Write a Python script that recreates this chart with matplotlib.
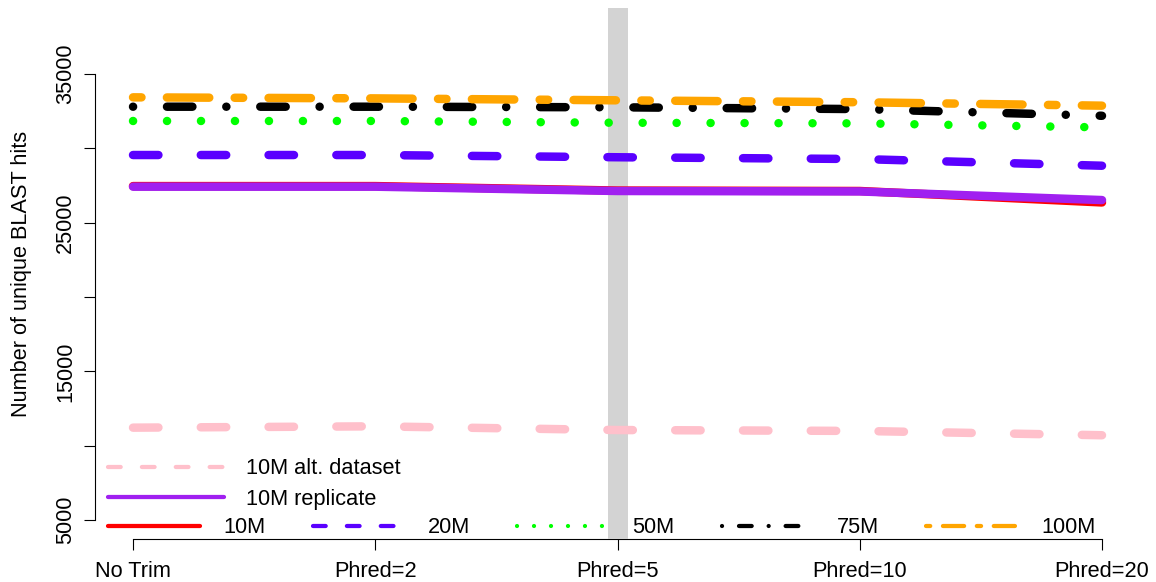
import numpy as np
import matplotlib
matplotlib.use("Agg")
import matplotlib.pyplot as plt
from matplotlib.lines import Line2D

# ── data ──────────────────────────────────────────────────────────────────────
TRIM_LEVELS = ["No Trim", "Phred=2", "Phred=5", "Phred=10", "Phred=20"]
HIGHLIGHT = "Phred=5"

HITS_10M = [27460, 27460, 27160, 27130, 26360]
HITS_20M = [29550, 29550, 29400, 29280, 28830]
HITS_50M = [31840, 31840, 31720, 31680, 31410]
HITS_75M = [32800, 32800, 32760, 32640, 32190]
HITS_100M = [33430, 33360, 33230, 33100, 32870]
HITS_10M_REPLICATE = [27420, 27420, 27130, 27100, 26520]
HITS_10M_ALT = [11210, 11300, 11050, 10990, 10700]

Y_TICKS = [5000, 10000, 15000, 20000, 25000, 30000, 35000]
Y_TICK_LABELS = ["5000", "", "15000", "", "25000", "", "35000"]

# R lty patterns, rewritten for round caps (units of line width)
SOLID = None
DASHED = (3, 5)
DOTTED = (0.01, 4)
DOTDASH = (0.01, 4, 3, 4)
TWODASH = (1, 3, 5, 3)

FS = 15.7
plt.rcParams["font.family"] = ["Liberation Sans", "DejaVu Sans"]
plt.rcParams["font.size"] = FS

W, H, DPI = 1156, 582, 100
LW = 6.1          # data lines
LW_LEG = LW / 2   # legend lines


def styled_line(color, dashes, lw):
    ln = Line2D([], [], color=color, lw=lw,
                solid_capstyle="round", dash_capstyle="round")
    if dashes is not None:
        ln.set_dashes(dashes)
    return ln


def draw(ax, x, values, color, dashes):
    ln, = ax.plot(x, values, color=color, lw=LW, zorder=3,
                  solid_capstyle="round", dash_capstyle="round")
    if dashes is not None:
        ln.set_dashes(dashes)


fig = plt.figure(figsize=(W / DPI, H / DPI), dpi=DPI)
ax = fig.add_axes([94.5 / W, 1 - 539.3 / H, (1141 - 94.5) / W, (539.3 - 8) / H])

x = np.arange(1, len(TRIM_LEVELS) + 1)

main_series = [
    ("10M", HITS_10M, "#FF0000", SOLID),
    ("20M", HITS_20M, "#5A00FF", DASHED),
    ("50M", HITS_50M, "#00FF00", DOTTED),
    ("75M", HITS_75M, "#000000", DOTDASH),
    ("100M", HITS_100M, "#FFA500", TWODASH),
]
extra_series = [
    ("10M alt. dataset", HITS_10M_ALT, "#FFC0CB", DASHED),
    ("10M replicate", HITS_10M_REPLICATE, "#A020F0", SOLID),
]

for _, vals, col, dsh in main_series:
    draw(ax, x, vals, col, dsh)
for _, vals, col, dsh in extra_series[::-1]:
    draw(ax, x, vals, col, dsh)

# grey marker behind the chosen trimming level
ax.axvline(x[TRIM_LEVELS.index(HIGHLIGHT)], color="#D3D3D3", lw=14.4, zorder=2.7)

ax.set_xlim(0.841, 5.161)
ax.set_ylim(3700, 39440)

ax.set_xticks(x)
ax.set_xticklabels(TRIM_LEVELS)
ax.set_yticks(Y_TICKS)
ax.set_yticklabels(Y_TICK_LABELS, rotation=90, va="center")
ax.tick_params(axis="both", direction="out", length=7.9, width=0.8, labelsize=FS)
ax.tick_params(axis="x", pad=7.8)
ax.tick_params(axis="y", pad=5.5)

for side in ("top", "right"):
    ax.spines[side].set_visible(False)
ax.spines["left"].set_bounds(Y_TICKS[0], Y_TICKS[-1])
ax.spines["bottom"].set_bounds(x[0], x[-1])
for side in ("left", "bottom"):
    ax.spines[side].set_linewidth(0.8)

ax.set_ylabel("Number of unique BLAST hits", fontsize=FS, va="center")
ax.yaxis.set_label_coords(-0.0693, 0.5)

# ── legends ──────────────────────────────────────────────────────────────────
leg_main = ax.legend(
    [styled_line(c, d, LW_LEG) for _, _, c, d in main_series],
    [n for n, _, _, _ in main_series],
    ncol=5, loc="center left", bbox_to_anchor=(0.0129, 0.0213),
    frameon=False, fontsize=FS, handlelength=4.24, handletextpad=1.04,
    columnspacing=2.17, borderpad=0, borderaxespad=0,
)
leg_main.set_zorder(2)
ax.add_artist(leg_main)

leg_extra = ax.legend(
    [styled_line(c, d, LW_LEG) for _, _, c, d in extra_series],
    [n for n, _, _, _ in extra_series],
    loc="center left", bbox_to_anchor=(0.0129, 0.1041),
    frameon=False, fontsize=FS, handlelength=5.34, handletextpad=0.99,
    labelspacing=0.42, borderpad=0, borderaxespad=0,
)
leg_extra.set_zorder(2)

fig.savefig("out.png", dpi=DPI)
